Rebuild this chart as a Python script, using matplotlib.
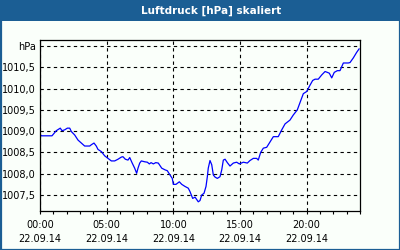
import matplotlib
matplotlib.use("Agg")
import matplotlib.pyplot as plt
from matplotlib.patches import Rectangle

# Luftdruck over one day (hours since 00:00, hPa)
hours = [0.05, 0.1, 0.9, 1.22, 1.52, 1.65, 1.85, 2.05, 2.23, 2.35, 2.6, 2.85,
         3.1, 3.35, 3.73, 3.85, 4.05, 4.22, 4.35, 4.6, 4.85, 5.1, 5.35, 5.6,
         5.85, 6.1, 6.22, 6.4, 6.6, 6.73, 6.9, 7.1, 7.25, 7.35, 7.48, 7.6,
         7.85, 8.05, 8.2, 8.33, 8.5, 8.68, 8.87, 9.13, 9.38, 9.55, 9.75, 9.92,
         10.0, 10.2, 10.45, 10.63, 10.88, 11.12, 11.25, 11.45, 11.63, 11.87,
         12.0, 12.13, 12.3, 12.45, 12.55, 12.62, 12.75, 12.88, 13.0, 13.13,
         13.3, 13.5, 13.63, 13.75, 13.88, 14.05, 14.25, 14.5, 14.75, 14.95,
         15.25, 15.55, 15.75, 16.0, 16.25, 16.37, 16.55, 16.75, 17.0, 17.2,
         17.5, 17.87, 18.13, 18.38, 18.75, 19.0, 19.3, 19.5, 19.75, 20.0,
         20.2, 20.45, 20.63, 20.87, 21.13, 21.38, 21.55, 21.7, 21.88, 22.07,
         22.3, 22.5, 22.75, 23.12, 23.25, 23.5, 23.75, 23.93]
pressure = [1008.91, 1008.89, 1008.89, 1009.01, 1009.07, 1009.01, 1009.03,
            1009.07, 1009.07, 1008.99, 1008.91, 1008.79, 1008.72, 1008.65,
            1008.65, 1008.68, 1008.72, 1008.65, 1008.57, 1008.52, 1008.42,
            1008.36, 1008.30, 1008.30, 1008.34, 1008.39, 1008.40, 1008.34,
            1008.32, 1008.38, 1008.26, 1008.13, 1008.01, 1008.13, 1008.25,
            1008.30, 1008.28, 1008.27, 1008.23, 1008.26, 1008.23, 1008.26,
            1008.25, 1008.13, 1008.09, 1008.07, 1007.97, 1007.89, 1007.75,
            1007.75, 1007.81, 1007.75, 1007.70, 1007.66, 1007.58, 1007.42,
            1007.45, 1007.34, 1007.37, 1007.50, 1007.54, 1007.70, 1007.93,
            1008.13, 1008.31, 1008.21, 1007.97, 1007.92, 1007.89, 1007.93,
            1008.09, 1008.32, 1008.34, 1008.26, 1008.18, 1008.25, 1008.27,
            1008.23, 1008.27, 1008.25, 1008.31, 1008.36, 1008.36, 1008.32,
            1008.50, 1008.60, 1008.62, 1008.72, 1008.87, 1008.87, 1009.03,
            1009.17, 1009.26, 1009.38, 1009.50, 1009.67, 1009.88, 1009.93,
            1010.05, 1010.19, 1010.22, 1010.22, 1010.32, 1010.40, 1010.38,
            1010.36, 1010.25, 1010.38, 1010.42, 1010.42, 1010.60, 1010.60,
            1010.61, 1010.72, 1010.85, 1010.93]

y_ticks = [1007.5, 1008.0, 1008.5, 1009.0, 1009.5, 1010.0, 1010.5, 1011.0]
y_labels = ["1007,5", "1008,0", "1008,5", "1009,0", "1009,5", "1010,0", "1010,5", "hPa"]
x_ticks = [0, 5, 10, 15, 20]
x_labels = ["00:00\n22.09.14", "05:00\n22.09.14", "10:00\n22.09.14",
            "15:00\n22.09.14", "20:00\n22.09.14"]

bar_col = "#1b5e94"
bg_col = "#fafffa"

fig = plt.figure(figsize=(4, 2.5), dpi=100, facecolor=bg_col)
ax = fig.add_axes([0.1, 0.157, 0.8, 0.683])
ax.set_facecolor(bg_col)

ax.plot(hours, pressure, color="#0000ff", lw=0.9)
ax.set_xlim(0, 24)
ax.set_ylim(1007.13, 1011.14)

ax.set_xticks(x_ticks)
ax.set_xticklabels(x_labels, fontsize=7, linespacing=1.55)
ax.set_xticks(range(25), minor=True)
ax.set_yticks(y_ticks)
ax.set_yticklabels(y_labels, fontsize=7)
ax.tick_params(axis="y", length=0, pad=3)
ax.tick_params(axis="x", which="both", direction="out", length=2.5, width=0.8, pad=4)
ax.grid(True, color="black", linestyle=(0, (3, 3)), lw=0.8)
for s in ax.spines.values():
    s.set_linewidth(0.9)

# title bar and blue frame
fig.patches.append(Rectangle((0, 1 - 20.5 / 250), 1, 20.5 / 250, transform=fig.transFigure,
                             facecolor=bar_col, edgecolor="none", zorder=0))
fig.patches.append(Rectangle((0.5 / 400, 0.5 / 250), 399 / 400, 249 / 250, transform=fig.transFigure,
                             facecolor="none", edgecolor=bar_col, lw=1.6, zorder=0))
fig.text(0.5275, 1 - 10.5 / 250, "Luftdruck [hPa] skaliert", color="white", fontsize=7.5,
         fontweight="bold", ha="center", va="center")

fig.savefig("out.png", dpi=100, facecolor=bg_col)
